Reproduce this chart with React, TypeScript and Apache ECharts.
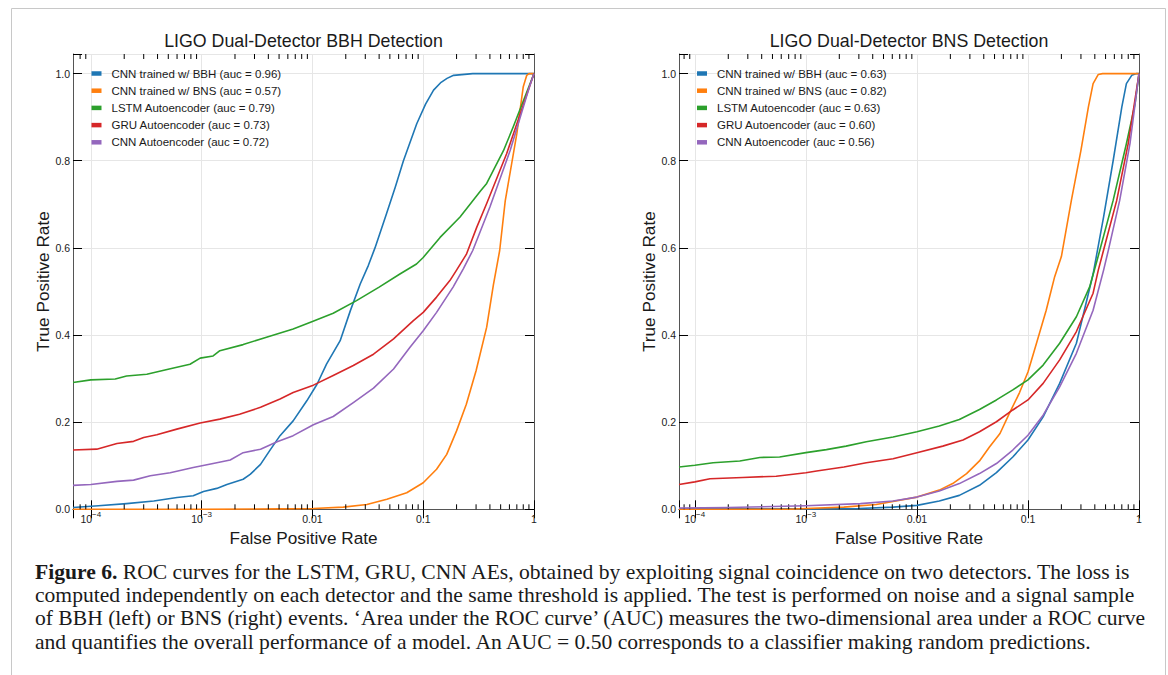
import React, { useEffect, useRef } from 'react';
import * as echarts from 'echarts';

const FONT = "'Liberation Sans', Arial, Helvetica, sans-serif";
const SERIF = "'Liberation Serif', 'Times New Roman', serif";

const COLORS = ['#1f77b4', '#ff7f0e', '#2ca02c', '#d62728', '#9467bd'];

const TITLE_BBH = 'LIGO Dual-Detector BBH Detection';
const TITLE_BNS = 'LIGO Dual-Detector BNS Detection';
const X_NAME = 'False Positive Rate';
const Y_NAME = 'True Positive Rate';

const NAMES_BBH = [
  'CNN trained w/ BBH (auc = 0.96)',
  'CNN trained w/ BNS (auc = 0.57)',
  'LSTM Autoencoder (auc = 0.79)',
  'GRU Autoencoder (auc = 0.73)',
  'CNN Autoencoder (auc = 0.72)',
];
const NAMES_BNS = [
  'CNN trained w/ BBH (auc = 0.63)',
  'CNN trained w/ BNS (auc = 0.82)',
  'LSTM Autoencoder (auc = 0.63)',
  'GRU Autoencoder (auc = 0.60)',
  'CNN Autoencoder (auc = 0.56)',
];

const X_MIN_BBH = 6.9e-5;
const X_MIN_BNS = 7.2e-5;
const Y_MAX = 1.045;

const MINOR_TICKS = [
  8e-5, 9e-5,
  2e-4, 3e-4, 4e-4, 5e-4, 6e-4, 7e-4, 8e-4, 9e-4,
  2e-3, 3e-3, 4e-3, 5e-3, 6e-3, 7e-3, 8e-3, 9e-3,
  0.02, 0.03, 0.04, 0.05, 0.06, 0.07, 0.08, 0.09,
  0.2, 0.3, 0.4, 0.5, 0.6, 0.7, 0.8, 0.9,
];

// ---- BBH panel (fpr, tpr) ----
const bbhCnnBbh = [
  [6.9e-5, 0.004], [1.17e-4, 0.008], [2.1e-4, 0.013], [3.7e-4, 0.019], [6e-4, 0.027],
  [8.4e-4, 0.031], [1.04e-3, 0.041], [1.37e-3, 0.048], [1.69e-3, 0.057], [2.37e-3, 0.069],
  [2.74e-3, 0.08], [3.4e-3, 0.103], [4.1e-3, 0.134], [5.1e-3, 0.169], [6.7e-3, 0.203],
  [8.9e-3, 0.249], [0.011, 0.287], [0.0134, 0.333], [0.0178, 0.387], [0.022, 0.456],
  [0.027, 0.517], [0.032, 0.56], [0.0367, 0.6], [0.0467, 0.679], [0.056, 0.74],
  [0.0663, 0.8], [0.0874, 0.885], [0.105, 0.93], [0.124, 0.962], [0.145, 0.98],
  [0.164, 0.989], [0.188, 0.996], [0.28, 1.0], [1, 1.0],
];
const bbhCnnBns = [
  [6.9e-5, 0.0], [1e-3, 0.0], [5e-3, 0.001], [0.0102, 0.002], [0.019, 0.005], [0.031, 0.011],
  [0.047, 0.023], [0.071, 0.038], [0.1, 0.061], [0.132, 0.092], [0.163, 0.126], [0.2, 0.18],
  [0.245, 0.241], [0.3, 0.318], [0.374, 0.418], [0.43, 0.515], [0.49, 0.594], [0.55, 0.708],
  [0.7, 0.862], [0.8, 0.97], [0.86, 0.996], [0.9, 1.0], [1, 1.0],
];
const bbhLstm = [
  [6.9e-5, 0.291], [1e-4, 0.297], [1.66e-4, 0.299], [2.1e-4, 0.306], [3.2e-4, 0.31],
  [5.1e-4, 0.322], [7.85e-4, 0.333], [9.7e-4, 0.347], [1.27e-3, 0.352], [1.46e-3, 0.364],
  [2.37e-3, 0.378], [3.85e-3, 0.395], [6.7e-3, 0.414], [0.01, 0.431], [0.0154, 0.45],
  [0.025, 0.479], [0.04, 0.51], [0.0616, 0.54], [0.087, 0.563], [0.1, 0.578], [0.142, 0.624],
  [0.215, 0.671], [0.33, 0.731], [0.374, 0.748], [0.53, 0.823], [0.65, 0.878], [1, 1.0],
];
const bbhGru = [
  [6.9e-5, 0.136], [1.13e-4, 0.138], [1.72e-4, 0.151], [2.43e-4, 0.156], [3e-4, 0.165],
  [3.94e-4, 0.171], [5.97e-4, 0.184], [9.7e-4, 0.198], [1.46e-3, 0.207], [2.2e-3, 0.218],
  [3.4e-3, 0.234], [5.1e-3, 0.253], [6.7e-3, 0.268], [0.0102, 0.285], [0.0154, 0.307],
  [0.0234, 0.33], [0.0356, 0.356], [0.054, 0.391], [0.0815, 0.433], [0.1, 0.452],
  [0.132, 0.487], [0.174, 0.525], [0.2, 0.549], [0.245, 0.585], [0.304, 0.647],
  [0.374, 0.702], [0.566, 0.816], [0.91, 0.97], [1, 1.0],
];
const bbhCnnAe = [
  [6.9e-5, 0.055], [1e-4, 0.057], [1.72e-4, 0.064], [2.43e-4, 0.067], [3.44e-4, 0.077],
  [5.2e-4, 0.084], [8.4e-4, 0.096], [1.27e-3, 0.105], [1.81e-3, 0.113], [2.37e-3, 0.13],
  [3.4e-3, 0.138], [4.8e-3, 0.155], [6.7e-3, 0.169], [0.0102, 0.194], [0.0154, 0.213],
  [0.0234, 0.245], [0.0356, 0.278], [0.054, 0.322], [0.076, 0.372], [0.1, 0.41],
  [0.132, 0.452], [0.186, 0.51], [0.23, 0.552], [0.28, 0.594], [0.4, 0.694], [0.61, 0.824],
  [0.91, 0.97], [1, 1.0],
];

// ---- BNS panel (fpr, tpr) ----
const bnsCnnBbh = [
  [7.2e-5, 0.001], [1e-3, 0.001], [3e-3, 0.002], [6.1e-3, 0.005], [0.01, 0.009],
  [0.0159, 0.019], [0.0241, 0.032], [0.0366, 0.055], [0.052, 0.084], [0.073, 0.12],
  [0.1, 0.159], [0.137, 0.212], [0.193, 0.289], [0.273, 0.381], [0.386, 0.54],
  [0.48, 0.671], [0.585, 0.8], [0.7, 0.923], [0.77, 0.977], [0.86, 0.996], [0.95, 1.0], [1, 1.0],
];
const bnsCnnBns = [
  [7.2e-5, 0.0], [7e-4, 0.0], [1e-3, 0.002], [2.2e-3, 0.005], [4.3e-3, 0.011], [0.01, 0.028],
  [0.0159, 0.044], [0.021, 0.059], [0.028, 0.082], [0.0366, 0.111], [0.045, 0.143],
  [0.056, 0.174], [0.068, 0.22], [0.084, 0.268], [0.1, 0.315], [0.119, 0.38], [0.146, 0.457],
  [0.174, 0.534], [0.2, 0.58], [0.246, 0.709], [0.3, 0.824], [0.35, 0.923], [0.386, 0.977],
  [0.43, 0.998], [0.47, 1.0], [1, 1.0],
];
const bnsLstm = [
  [7.2e-5, 0.097], [1e-4, 0.101], [1.46e-4, 0.107], [2.54e-4, 0.111], [3.85e-4, 0.119],
  [5.8e-4, 0.12], [1e-3, 0.13], [1.53e-3, 0.137], [2.3e-3, 0.145], [3.5e-3, 0.155],
  [6.1e-3, 0.166], [0.01, 0.178], [0.0159, 0.191], [0.0241, 0.206], [0.0366, 0.229],
  [0.052, 0.251], [0.073, 0.274], [0.1, 0.297], [0.137, 0.331], [0.193, 0.381],
  [0.273, 0.442], [0.36, 0.511], [0.42, 0.572], [0.585, 0.709], [0.77, 0.839], [0.92, 0.93], [1, 1.0],
];
const bnsGru = [
  [7.2e-5, 0.057], [1e-4, 0.063], [1.37e-4, 0.07], [2.7e-4, 0.073], [5.4e-4, 0.076],
  [1e-3, 0.084], [1.25e-3, 0.088], [2.2e-3, 0.097], [3.5e-3, 0.107], [6.1e-3, 0.116],
  [0.01, 0.13], [0.0171, 0.145], [0.026, 0.159], [0.0366, 0.178], [0.052, 0.201],
  [0.073, 0.228], [0.1, 0.251], [0.137, 0.289], [0.193, 0.343], [0.273, 0.408],
  [0.386, 0.496], [0.43, 0.549], [0.48, 0.595], [0.63, 0.709], [0.8, 0.84], [1, 1.0],
];
const bnsCnnAe = [
  [7.2e-5, 0.003], [2e-4, 0.004], [1e-3, 0.008], [3.1e-3, 0.013], [6.1e-3, 0.019],
  [0.01, 0.028], [0.0159, 0.042], [0.0241, 0.059], [0.0366, 0.082], [0.052, 0.105],
  [0.073, 0.136], [0.1, 0.17], [0.137, 0.216], [0.193, 0.281], [0.273, 0.358],
  [0.386, 0.457], [0.48, 0.549], [0.53, 0.595], [0.67, 0.709], [0.83, 0.84], [1, 1.0],
];

const DATA_BBH = [bbhCnnBbh, bbhCnnBns, bbhLstm, bbhGru, bbhCnnAe];
const DATA_BNS = [bnsCnnBbh, bnsCnnBns, bnsLstm, bnsGru, bnsCnnAe];

const CAPTION_LINES = [
  ' ROC curves for the LSTM, GRU, CNN AEs, obtained by exploiting signal coincidence on two detectors. The loss is',
  'computed independently on each detector and the same threshold is applied. The test is performed on noise and a signal sample',
  'of BBH (left) or BNS (right) events. \u2018Area under the ROC curve\u2019 (AUC) measures the two-dimensional area under a ROC curve',
  'and quantifies the overall performance of a model. An AUC = 0.50 corresponds to a classifier making random predictions.',
];
const CAPTION_LABEL = 'Figure 6.';

const SUPS: Record<string, string> = { '-4': '\u22124', '-3': '\u22123' };

function xLabel(v: number) {
  const l = Math.log10(v);
  const r = Math.round(l);
  if (Math.abs(l - r) > 1e-6) return '';
  if (r === -4 || r === -3) return '{a|10}{s|' + SUPS[String(r)] + '}';
  if (r === -2) return '{a|0.01}';
  if (r === -1) return '{a|0.1}';
  if (r === 0) return '{a|1}';
  return '';
}

function buildAxes(g: number, xmin: number) {
  const xBottom = {
    type: 'log', logBase: 10, gridIndex: g, min: xmin, max: 1, position: 'bottom',
    axisLine: { show: true, lineStyle: { color: '#555', width: 1 } },
    axisTick: { show: true, inside: true, length: 9, lineStyle: { color: '#000', width: 1 } },
    splitLine: { show: true, lineStyle: { color: '#e6e6e6', width: 1 } },
    axisLabel: {
      show: true, margin: 1, formatter: xLabel, color: '#1a1a1a', fontFamily: FONT,
      showMinLabel: true, showMaxLabel: true, hideOverlap: false,
      rich: {
        a: { fontSize: 10.5, fontFamily: FONT, color: '#1a1a1a', lineHeight: 14, verticalAlign: 'bottom' },
        s: { fontSize: 8, fontFamily: FONT, color: '#1a1a1a', lineHeight: 9, verticalAlign: 'top' },
      },
    },
    name: X_NAME, nameLocation: 'middle', nameGap: 12,
    nameTextStyle: { fontSize: 17.2, color: '#1a1a1a', fontFamily: FONT, verticalAlign: 'top' },
  };
  const xTop = {
    type: 'log', logBase: 10, gridIndex: g, min: xmin, max: 1, position: 'top',
    axisLine: { show: true, lineStyle: { color: '#555', width: 1 } },
    axisTick: { show: true, inside: true, length: 9, lineStyle: { color: '#000', width: 1 } },
    splitLine: { show: false },
    axisLabel: { show: false },
  };
  const yLeft = {
    type: 'value', gridIndex: g, min: 0, max: Y_MAX, interval: 0.2, position: 'left',
    axisLine: { show: true, lineStyle: { color: '#555', width: 1 } },
    axisTick: { show: true, inside: true, length: 9, lineStyle: { color: '#000', width: 1 } },
    splitLine: { show: true, lineStyle: { color: '#e6e6e6', width: 1 } },
    axisLabel: {
      show: true, margin: 3, fontSize: 10.5, color: '#1a1a1a', fontFamily: FONT,
      formatter: (v: number) => (v > 1.0001 ? '' : v.toFixed(1)),
    },
    name: Y_NAME, nameLocation: 'middle', nameGap: 22, nameRotate: 90,
    nameTextStyle: { fontSize: 17.2, color: '#1a1a1a', fontFamily: FONT },
  };
  const yRight = {
    type: 'value', gridIndex: g, min: 0, max: Y_MAX, interval: 0.2, position: 'right',
    axisLine: { show: true, lineStyle: { color: '#555', width: 1 } },
    axisTick: { show: true, inside: true, length: 9, lineStyle: { color: '#000', width: 1 } },
    splitLine: { show: false },
    axisLabel: { show: false },
  };
  return { x: [xBottom, xTop], y: [yLeft, yRight] };
}

function minorTickSeries(g: number, xmin: number) {
  return {
    type: 'custom',
    xAxisIndex: 2 * g,
    yAxisIndex: 2 * g,
    silent: true,
    clip: false,
    z: 5,
    data: MINOR_TICKS.filter((v) => v > xmin).map((v) => [v, 0]),
    encode: { x: 0, y: 1 },
    renderItem: (params: any, api: any) => {
      const v = api.value(0);
      const pb = api.coord([v, 0]);
      const pt = api.coord([v, Y_MAX]);
      return {
        type: 'group',
        children: [
          { type: 'line', shape: { x1: pb[0], y1: pb[1], x2: pb[0], y2: pb[1] - 5 }, style: { stroke: '#000', lineWidth: 1 } },
          { type: 'line', shape: { x1: pt[0], y1: pt[1], x2: pt[0], y2: pt[1] + 5 }, style: { stroke: '#000', lineWidth: 1 } },
        ],
      };
    },
  };
}

export default function App() {
  const ref = useRef<HTMLDivElement>(null);
  useEffect(() => {
    if (!ref.current) return;
    const chart = echarts.init(ref.current, null, { renderer: 'svg' });
    const a0 = buildAxes(0, X_MIN_BBH);
    const a1 = buildAxes(1, X_MIN_BNS);
    const lineSeries: any[] = [];
    [NAMES_BBH, NAMES_BNS].forEach((names, g) => {
      const data = g === 0 ? DATA_BBH : DATA_BNS;
      names.forEach((name, i) => {
        lineSeries.push({
          type: 'line', name, xAxisIndex: 2 * g, yAxisIndex: 2 * g,
          data: data[i], showSymbol: false, symbol: 'none', silent: true,
          lineStyle: { color: COLORS[i], width: 1.6, join: 'round' }, itemStyle: { color: COLORS[i] },
          z: 3 + i,
        });
      });
    });
    const legendCommon = {
      orient: 'vertical', icon: 'rect', itemWidth: 10, itemHeight: 4.5, itemGap: 3.2,
      selectedMode: false,
      textStyle: { fontSize: 11.5, lineHeight: 14, color: '#1a1a1a', fontFamily: FONT, padding: [0, 0, 0, 5] },
    };
    const option: any = {
      animation: false,
      backgroundColor: '#ffffff',
      textStyle: { fontFamily: FONT },
      grid: [
        { left: 73, top: 54, width: 461, height: 455.3 },
        { left: 679, top: 54, width: 460, height: 455.3 },
      ],
      xAxis: [...a0.x, ...a1.x],
      yAxis: [...a0.y, ...a1.y],
      legend: [
        { ...legendCommon, left: 86.5, top: 61.5, data: NAMES_BBH },
        { ...legendCommon, left: 692, top: 61.5, data: NAMES_BNS },
      ],
      series: [...lineSeries, minorTickSeries(0, X_MIN_BBH), minorTickSeries(1, X_MIN_BNS)],
      graphic: [
        {
          type: 'rect', left: 9, top: 6, silent: true, z: -10,
          shape: { x: 0, y: 0, width: 1154, height: 700 },
          style: { fill: 'none', stroke: '#c8c8c8', lineWidth: 1 },
        },
        {
          type: 'text', x: 303.5, y: 41, silent: true,
          style: { text: TITLE_BBH, fontSize: 17.8, fontFamily: FONT, fill: '#1a1a1a', align: 'center', verticalAlign: 'middle', textAlign: 'center', textVerticalAlign: 'middle' },
        },
        {
          type: 'text', x: 909, y: 41, silent: true,
          style: { text: TITLE_BNS, fontSize: 17.8, fontFamily: FONT, fill: '#1a1a1a', align: 'center', verticalAlign: 'middle', textAlign: 'center', textVerticalAlign: 'middle' },
        },
        ...CAPTION_LINES.map((line, i) => ({
          type: 'text', x: 35, y: 572 + i * 23.3, scaleX: 1.08, silent: true,
          style: {
            text: i === 0 ? '{b|' + CAPTION_LABEL + '}' + line : line,
            fontSize: 20, fontFamily: SERIF, fill: '#1a1a1a',
            align: 'left', verticalAlign: 'middle', textAlign: 'left', textVerticalAlign: 'middle',
            rich: { b: { fontSize: 20, fontFamily: SERIF, fontWeight: 'bold', fill: '#1a1a1a', color: '#1a1a1a' } },
          },
        })),
      ],
    };
    chart.setOption(option);
    return () => chart.dispose();
  }, []);
  return (
    <div
      ref={ref}
      style={{ position: 'absolute', left: 0, top: 0, width: 1168, height: 675, background: '#fff' }}
    />
  );
}
